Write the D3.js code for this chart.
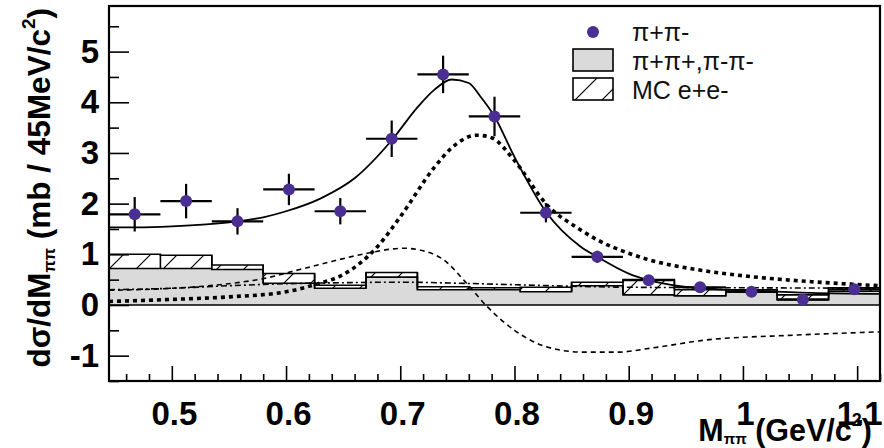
<!DOCTYPE html>
<html><head><meta charset="utf-8">
<script src="https://cdn.jsdelivr.net/npm/d3@7"></script>
<style>body{margin:0;background:#fff} svg{display:block}</style>
</head><body><svg id="c" width="884" height="448"></svg>
<script>
// ---------- data ----------
const binEdges = [0.445,0.49,0.535,0.58,0.625,0.67,0.715,0.76,0.805,0.85,0.895,0.94,0.985,1.03,1.075,1.12];
const binCenters = [0.4675,0.5125,0.5575,0.6025,0.6475,0.6925,0.7375,0.7825,0.8275,0.8725,0.9175,0.9625,1.0075,1.0525,1.0975];
const pipiXsec = [1.79,2.05,1.65,2.28,1.85,3.28,4.55,3.72,1.82,0.95,0.49,0.35,0.26,0.11,0.31];
const pipiErr  = [0.34,0.34,0.26,0.31,0.26,0.36,0.37,0.39,0.19,0.12,0.08,0.06,0.05,0.04,0.05];
const sameSign = [0.72,0.72,0.70,0.43,0.33,0.55,0.30,0.30,0.26,0.38,0.20,0.18,0.27,0.10,0.27];
const mcEE     = [0.28,0.26,0.09,0.19,0.06,0.09,0.06,0.04,0.09,0.07,0.30,0.12,0.03,0.10,0.07];

const fitX = [0.445,0.47,0.50,0.53,0.5575,0.58,0.60,0.63,0.66,0.6925,0.715,0.73,0.745,0.76,0.77,0.7825,0.80,0.8275,0.858,0.8725,0.90,0.9175,0.945,0.9625,1.00,1.06,1.12];
const fitY = [1.53,1.53,1.55,1.59,1.65,1.73,1.85,2.10,2.50,3.25,3.90,4.25,4.45,4.38,4.12,3.72,2.92,1.84,1.15,0.95,0.62,0.49,0.37,0.33,0.29,0.24,0.22];
const rhoX = [0.445,0.50,0.55,0.60,0.625,0.65,0.68,0.70,0.73,0.745,0.767,0.78,0.80,0.8275,0.858,0.873,0.90,0.918,0.962,1.007,1.06,1.12];
const rhoY = [0.07,0.11,0.16,0.26,0.40,0.60,1.15,1.74,2.72,3.10,3.35,3.30,2.85,2.00,1.48,1.28,1.02,0.89,0.69,0.56,0.46,0.38];
const intX = [0.445,0.50,0.55,0.58,0.612,0.64,0.671,0.703,0.72,0.738,0.758,0.776,0.80,0.83,0.86,0.89,0.92,0.968,1.04,1.12];
const intY = [0.29,0.33,0.42,0.52,0.70,0.86,1.02,1.12,1.07,0.89,0.43,-0.03,-0.50,-0.84,-0.93,-0.93,-0.85,-0.69,-0.60,-0.53];
const bkgX = [0.445,0.50,0.55,0.60,0.65,0.70,0.75,0.80,0.85,0.90,1.00,1.12];
const bkgY = [0.30,0.33,0.38,0.42,0.44,0.45,0.43,0.40,0.37,0.35,0.34,0.33];

const xMajor = [0.5,0.6,0.7,0.8,0.9,1.0,1.1];
const xMajorLabels = ["0.5","0.6","0.7","0.8","0.9","1","1.1"];
const yMajor = [-1,0,1,2,3,4,5];
const yMajorLabels = ["-1","0","1","2","3","4","5"];

// ---------- layout ----------
const L=109, R=880, T=6, B=381;
const svg = d3.select("#c");
const x = d3.scaleLinear().domain([0.445,1.12]).range([L,R]);
const y = d3.scaleLinear().domain([-1.5,5.9]).range([B,T]);
const purple = "#4b2e91";

const defs = svg.append("defs");
const pat = defs.append("pattern").attr("id","hatch").attr("patternUnits","userSpaceOnUse")
  .attr("width",27).attr("height",27);
pat.append("rect").attr("width",27).attr("height",27).attr("fill","#fff");
pat.append("path").attr("d","M0,27 L27,0 M-4,4 L4,-4 M23,31 L31,23").attr("stroke","#000").attr("stroke-width",1.2);
defs.append("clipPath").attr("id","clip").append("rect").attr("x",L).attr("y",T).attr("width",R-L).attr("height",B-T);

const plot = svg.append("g").attr("clip-path","url(#clip)");

// histograms
const stepPts = (vals) => binEdges.map((e,i)=>({x:e, v: vals[Math.min(i,vals.length-1)]}));
const total = sameSign.map((g,i)=>g+mcEE[i]);
const gray = stepPts(sameSign), tot = stepPts(total);
const areaG = d3.area().curve(d3.curveStepAfter).x(d=>x(d.x)).y0(y(0)).y1(d=>y(d.v));
const bandData = binEdges.map((e,i)=>({x:e, lo: sameSign[Math.min(i,14)], hi: total[Math.min(i,14)]}));
const areaM = d3.area().curve(d3.curveStepAfter).x(d=>x(d.x)).y0(d=>y(d.lo)).y1(d=>y(d.hi));
plot.append("path").datum(bandData).attr("d",areaM).attr("fill","url(#hatch)").attr("stroke","none");
plot.append("path").datum(gray).attr("d",areaG).attr("fill","#dadada").attr("stroke","#000").attr("stroke-width",1.6);
const lineStep = d3.line().curve(d3.curveStepAfter).x(d=>x(d.x)).y(d=>y(d.v));
plot.append("path").datum(tot).attr("d",lineStep).attr("fill","none").attr("stroke","#000").attr("stroke-width",1.6);
plot.selectAll("line.edge").data(binEdges).join("line").attr("class","edge")
  .attr("x1",d=>x(d)).attr("x2",d=>x(d))
  .attr("y1",(d,i)=>y(Math.max(i>0?total[i-1]:0, i<15?total[i]:0)))
  .attr("y2",(d,i)=>y(Math.min(i>0?sameSign[i-1]:0, i<15?sameSign[i]:0)))
  .attr("stroke","#000").attr("stroke-width",1.6);

// curves
const mk = (xs,ys)=>xs.map((v,i)=>({x:v,y:ys[i]}));
const ln = d3.line().curve(d3.curveMonotoneX).x(d=>x(d.x)).y(d=>y(d.y));
plot.append("path").datum(mk(bkgX,bkgY)).attr("d",ln).attr("fill","none").attr("stroke","#000").attr("stroke-width",1.6).attr("stroke-dasharray","6,3,2,3");
plot.append("path").datum(mk(intX,intY)).attr("d",ln).attr("fill","none").attr("stroke","#000").attr("stroke-width",1.6).attr("stroke-dasharray","5,4");
plot.append("path").datum(mk(rhoX,rhoY)).attr("d",ln).attr("fill","none").attr("stroke","#000").attr("stroke-width",3.6).attr("stroke-dasharray","4,4");
plot.append("path").datum(mk(fitX,fitY)).attr("d",ln).attr("fill","none").attr("stroke","#000").attr("stroke-width",1.8);

// data points
const pts = binCenters.map((c,i)=>({x:c,v:pipiXsec[i],e:pipiErr[i],lo:binEdges[i],hi:binEdges[i+1]}));
const pg = plot.append("g");
pg.selectAll("line.h").data(pts).join("line").attr("x1",d=>x(d.lo)).attr("x2",d=>x(d.hi))
  .attr("y1",d=>y(d.v)).attr("y2",d=>y(d.v)).attr("stroke","#000").attr("stroke-width",2.2);
pg.selectAll("line.v").data(pts).join("line").attr("x1",d=>x(d.x)).attr("x2",d=>x(d.x))
  .attr("y1",d=>y(d.v-d.e)).attr("y2",d=>y(d.v+d.e)).attr("stroke","#000").attr("stroke-width",2.2);
pg.selectAll("circle").data(pts).join("circle").attr("cx",d=>x(d.x)).attr("cy",d=>y(d.v)).attr("r",6).attr("fill",purple);

// axes
const font = "'Liberation Sans', Arial, Helvetica, sans-serif";
const xMinor = d3.range(0.46,1.12,0.02).map(v=>+v.toFixed(2)).filter(v=>!xMajor.some(m=>Math.abs(m-v)<1e-6));
const yMinor = [-1.5,-0.5,0.5,1.5,2.5,3.5,4.5,5.5];
const gx = svg.append("g").attr("transform",`translate(0,${B})`);
gx.call(d3.axisBottom(x).tickValues(xMinor).tickSize(-7).tickFormat(""));
gx.append("g").call(d3.axisBottom(x).tickValues(xMajor).tickSize(-15).tickPadding(21)
  .tickFormat((d,i)=>xMajorLabels[i]));
gx.selectAll(".domain").remove();
gx.selectAll("line").attr("stroke","#000").attr("stroke-width",1.6);
gx.selectAll("text").attr("font-family",font).attr("font-weight","bold").attr("font-size",33).attr("fill","#000").attr("dx",2);
const gy = svg.append("g").attr("transform",`translate(${L},0)`);
gy.call(d3.axisLeft(y).tickValues(yMinor).tickSize(-10).tickFormat(""));
gy.append("g").call(d3.axisLeft(y).tickValues(yMajor).tickSize(-20).tickPadding(10)
  .tickFormat((d,i)=>yMajorLabels[i]));
gy.selectAll(".domain").remove();
gy.selectAll("line").attr("stroke","#000").attr("stroke-width",1.6);
gy.selectAll("text").attr("font-family",font).attr("font-weight","bold").attr("font-size",33).attr("fill","#000");

svg.append("rect").attr("x",L).attr("y",T).attr("width",R-L).attr("height",B-T)
  .attr("fill","none").attr("stroke","#000").attr("stroke-width",2.2);

// axis titles
const xt = svg.append("text").attr("x",R-8).attr("y",441).attr("text-anchor","end")
  .attr("font-family",font).attr("font-weight","bold").attr("font-size",30.5);
xt.append("tspan").text("M");
xt.append("tspan").attr("font-size",15).attr("dy",3).text("ππ");
xt.append("tspan").attr("dy",-3).text(" (GeV/c");
xt.append("tspan").attr("font-size",18).attr("dy",-15).text("2");
xt.append("tspan").attr("dy",15).text(")");

const yt = svg.append("text").attr("transform","translate(50,8) rotate(-90)").attr("text-anchor","end")
  .attr("font-family",font).attr("font-weight","bold").attr("font-size",31.5);
yt.append("tspan").text("dσ/dM");
yt.append("tspan").attr("font-size",16).attr("dy",5).text("ππ");
yt.append("tspan").attr("dy",-5).text(" (mb / 45MeV/c");
yt.append("tspan").attr("font-size",19).attr("dy",-15).text("2");
yt.append("tspan").attr("dy",15).text(")");

// legend
const lg = svg.append("g");
const legFont = 25;
lg.append("circle").attr("cx",593).attr("cy",32).attr("r",6).attr("fill",purple);
lg.append("rect").attr("x",573).attr("y",49).attr("width",40).attr("height",22).attr("fill","#dadada").attr("stroke","#000").attr("stroke-width",1.6);
lg.append("rect").attr("x",573).attr("y",78).attr("width",40).attr("height",22).attr("fill","url(#hatch)").attr("stroke","#000").attr("stroke-width",1.6);
const legLabels = ["π+π-","π+π+,π-π-","MC e+e-"];
lg.selectAll("text").data(legLabels).join("text").attr("x",632).attr("y",(d,i)=>41+i*29)
  .attr("font-family",font).attr("font-size",legFont).attr("fill","#111").text(d=>d);
</script></body></html>
